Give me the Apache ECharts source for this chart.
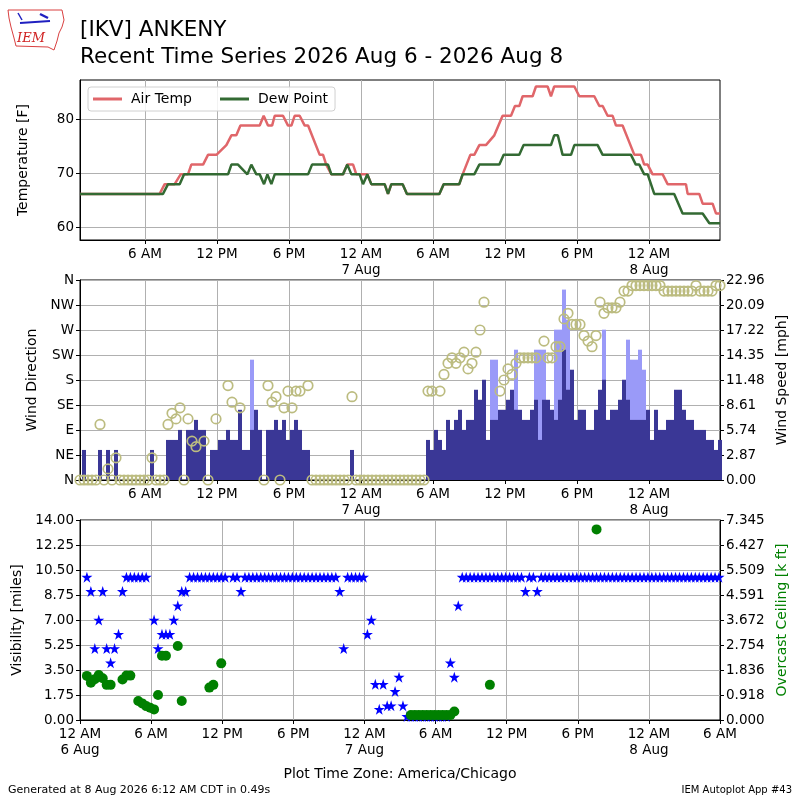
<!DOCTYPE html>
<html>
<head>
<meta charset="utf-8">
<title>[IKV] ANKENY Recent Time Series</title>
<script src="https://cdn.jsdelivr.net/npm/echarts@6/dist/echarts.min.js"></script>
<style>html,body{margin:0;background:#fff;}</style>
</head>
<body>
<div id="main" style="width:800px;height:800px;"></div>
<script type="text/javascript">
// x values are hours since 00:00 6 Aug (America/Chicago)
// AWOS obs every 20 minutes, first one 00:35 6 Aug, last 05:55 8 Aug
var obsStart = 35 / 60;
var obsStep = 20 / 60;

// temperature / dew point break points (F)
var tempHours = [0.58,7.22,7.64,8.47,8.97,9.58,9.86,10.84,11.25,11.95,12.78,13.2,13.61,13.95,15.56,15.89,16.25,16.59,16.81,17.5,17.92,18.2,18.47,18.89,19.31,19.59,20.56,20.84,21.1,21.53,22.5,22.86,23.34,23.61,24.53,24.86,25.97,26.25,26.53,27.47,27.83,30.53,30.89,32.19,32.47,33.11,33.44,33.86,34.41,35.11,35.8,36.5,36.83,37.19,37.47,38.3,38.58,39.55,39.83,40.1,41.78,42.19,43.44,43.86,44.14,44.55,44.97,45.25,45.8,46.78,47.33,47.6,47.89,48.3,49.14,49.55,51.08,51.22,52.19,52.47,53.3,53.58,53.92];
var tempVals = [66.2,66.2,68,68,69.8,69.8,71.6,71.6,73.4,73.4,75.2,77,77,78.8,78.8,80.6,78.8,78.8,80.6,80.6,78.8,78.8,80.6,80.6,78.8,78.8,73.4,73.4,71.6,69.8,69.8,71.6,71.6,69.8,69.8,68,68,66.2,68,68,66.2,66.2,68,68,69.8,73.4,73.4,75.2,75.2,77,80.6,80.6,82.4,82.4,84.2,84.2,86,86,84.2,86,86,84.2,84.2,82.4,82.4,80.6,80.6,78.8,78.8,73.4,73.4,71.6,71.6,69.8,69.8,68,68,66.2,66.2,64.4,64.4,62.6,62.6];
var dewHours = [0.58,7.5,7.92,8.89,9.25,12.92,13.2,13.75,14.53,14.86,15.28,15.56,15.92,16.2,16.53,16.81,19.59,19.92,21.25,21.53,22.5,22.86,23.2,23.89,24.17,24.53,24.86,25.97,26.25,26.53,27.47,27.83,30.53,30.89,32.19,32.47,33.44,33.86,35.53,35.89,37.19,37.55,39.83,40.1,40.4,40.8,41.5,41.78,43.72,44.14,46.5,46.9,47.19,47.6,47.89,48.44,50.1,50.8,52.47,53.03,53.92];
var dewVals = [66.2,66.2,68,68,69.8,69.8,71.6,71.6,69.8,71.6,69.8,69.8,68,69.8,68,69.8,69.8,71.6,71.6,69.8,69.8,71.6,69.8,69.8,68,69.8,68,68,66.2,68,68,66.2,66.2,68,68,69.8,69.8,71.6,71.6,73.4,73.4,75.2,75.2,77,77,73.4,73.4,75.2,75.2,73.4,73.4,71.6,71.6,69.8,69.8,66.2,66.2,62.6,62.6,60.8,60.8];

// wind direction (deg), one per obs, null = not reported
var windDir = [
  0,0,0,0,0,100,0,20,0,40,
  0,0,0,0,0,0,0,0,40,0,
  0,0,100,120,110,130,0,110,70,60,
  null,70,0,null,110,null,null,170,140,null,
  130,null,null,null,null,null,0,170,140,150,
  0,130,160,130,160,160,null,170,0,0,
  0,0,0,0,0,0,0,0,150,0,
  0,0,0,0,0,0,0,0,0,0,
  0,0,0,0,0,0,0,160,160,null,
  160,190,210,220,210,220,230,200,210,230,
  270,320,null,null,null,160,180,200,190,210,
  220,220,220,220,220,null,250,220,220,240,
  240,290,300,280,280,280,260,250,240,260,
  320,300,310,310,310,320,340,340,350,350,
  350,350,350,350,350,350,340,340,340,340,
  340,340,340,340,350,340,340,340,340,350,
  350
];
// wind speed (mph), one per obs
var windSpeed = [
  0,3.45,0,0,0,3.45,0,3.45,0,3.45,
  0,0,0,0,0,0,0,0,3.45,0,
  0,0,4.6,4.6,4.6,5.75,0,5.75,5.75,6.9,
  5.75,5.75,0,3.45,3.45,4.6,4.6,5.75,4.6,4.6,
  8.06,3.45,3.45,5.75,8.06,5.75,0,5.75,5.75,6.9,
  5.75,6.9,4.6,5.75,6.9,5.75,3.45,3.45,0,0,
  0,0,0,0,0,0,0,0,3.45,0,
  0,0,0,0,0,0,0,0,0,0,
  0,0,0,0,0,0,0,4.6,3.45,5.75,
  4.6,3.45,6.9,5.75,6.9,8.06,5.75,6.9,6.9,10.36,
  9.21,11.51,4.6,6.9,6.9,8.06,8.06,9.21,10.36,8.06,
  8.06,6.9,6.9,8.06,9.21,4.6,9.21,9.21,8.06,6.9,
  9.21,14.96,10.36,12.66,6.9,8.06,8.06,5.75,5.75,8.06,
  10.36,11.51,6.9,8.06,8.06,9.21,11.51,9.21,6.9,6.9,
  6.9,6.9,8.06,4.6,8.06,5.75,5.75,6.9,6.9,10.36,
  10.36,8.06,6.9,6.9,5.75,5.75,5.75,4.6,4.6,3.45,
  4.6
];
// gusts (mph) only at these obs
var gustSlots = [43,103,104,109,114,115,116,119,120,121,122,131,137,138,139,140,141];
var gustVals = [13.81,13.81,13.81,14.96,14.96,14.96,14.96,17.26,17.26,21.86,18.41,17.26,16.11,13.81,13.81,14.96,12.66];

// visibility (miles), one per obs
var visibility = [
  10,9,5,7,9,5,4,5,6,9,
  10,10,10,10,10,10,null,7,5,6,
  6,6,7,8,9,9,10,10,10,10,
  10,10,10,10,10,10,null,10,10,9,
  10,10,10,10,10,10,10,10,10,10,
  10,10,10,10,10,10,10,10,10,10,
  10,10,10,10,9,5,10,10,10,10,
  10,6,7,2.5,0.75,2.5,1,1,2,3,
  1,0.25,0.25,0.25,0.25,0.25,0.25,0.25,0.25,0.25,
  0.25,0.25,4,3,8,10,10,10,10,10,
  10,10,10,10,10,10,10,10,10,10,
  10,9,10,10,9,10,10,10,10,10,
  10,10,10,10,10,10,10,10,10,10,
  10,10,10,10,10,10,10,10,10,10,
  10,10,10,10,10,10,10,10,10,10,
  10,10,10,10,10,10,10,10,10,10,
  10
];
// overcast ceiling (k ft) only at these obs
var ceilSlots = [0,1,2,3,4,5,6,9,10,11,13,14,15,16,17,18,19,20,23,24,31,32,34,82,83,84,85,86,87,88,89,90,91,92,93,102,129];
var ceilVals = [1.62,1.37,1.5,1.65,1.53,1.29,1.29,1.49,1.63,1.63,0.70,0.61,0.51,0.45,0.39,0.92,2.36,2.36,2.72,0.70,1.19,1.29,2.08,0.18,0.18,0.18,0.18,0.18,0.18,0.18,0.18,0.18,0.18,0.18,0.31,1.29,7.0];

var dirLabels = ['N', 'NE', 'E', 'SE', 'S', 'SW', 'W', 'NW', 'N'];
var hourTicks = [6, 12, 18, 24, 30, 36, 42, 48];

function obsTime(i) { return obsStart + i * obsStep; }
function pairs(xs, ys) { return xs.map(function (x, i) { return [x, ys[i]]; }); }
function perObs(vals) { return vals.map(function (v, i) { return [obsTime(i), v]; }); }
function sparse(slots, vals) { return slots.map(function (s, i) { return [obsTime(s), vals[i]]; }); }

function timeLabel(v) {
  var h = Math.round(v);
  var hh = h % 24;
  var txt = hh === 0 ? '12 AM' : (hh < 12 ? hh + ' AM' : (hh === 12 ? '12 PM' : (hh - 12) + ' PM'));
  if (hh === 0) txt += '\n' + (6 + h / 24) + ' Aug';
  return txt;
}

var FONT = 'DejaVu Sans';
var gridLine = { show: true, lineStyle: { color: '#b0b0b0', width: 1 } };
var blackLine = { show: true, lineStyle: { color: '#000', width: 1 } };
var tick = { show: true, length: 4, lineStyle: { color: '#000' } };
var lbl = { color: '#000', fontSize: 13.5, fontFamily: FONT };

function xAx(grid, extra) {
  var a = {
    type: 'value', gridIndex: grid,
    axisLine: blackLine, splitLine: gridLine,
    axisTick: tick,
    axisLabel: Object.assign({ formatter: timeLabel, lineHeight: 16, margin: 6, showMinLabel: true, showMaxLabel: true }, lbl)
  };
  return Object.assign(a, extra);
}

var starPath = 'path://M50,0 L61.2,34.5 L97.6,34.5 L68.2,55.9 L79.4,90.5 L50,69.1 L20.6,90.5 L31.8,55.9 L2.4,34.5 L38.8,34.5 Z';

var myChart = echarts.init(document.getElementById('main'));

var option = {
  animation: false,
  backgroundColor: '#fff',
  textStyle: { fontFamily: FONT },
  grid: [
    { left: 80, top: 80, width: 640, height: 160, show: true, borderColor: '#000', borderWidth: 1 },
    { left: 80, top: 280, width: 640, height: 200, show: true, borderColor: '#000', borderWidth: 1 },
    { left: 80, top: 520, width: 640, height: 200, show: true, borderColor: '#000', borderWidth: 1 }
  ],
  legend: {
    left: 88, top: 87,
    data: [{ name: 'Air Temp', icon: 'rect' }, { name: 'Dew Point', icon: 'rect' }],
    itemWidth: 29, itemHeight: 3, itemGap: 28,
    padding: [5, 7, 5, 5],
    borderColor: '#d0d0d0', borderWidth: 1, borderRadius: 3,
    backgroundColor: 'rgba(255,255,255,0.85)',
    textStyle: { fontSize: 14, color: '#000', padding: [0, 0, 0, 4] }
  },
  xAxis: [
    xAx(0, { min: obsStart, max: obsTime(160), axisTick: Object.assign({ customValues: hourTicks }, tick),
      axisLabel: Object.assign({ customValues: hourTicks, formatter: timeLabel, lineHeight: 16, margin: 6 }, lbl) }),
    xAx(1, { min: obsStart, max: obsTime(160), axisTick: Object.assign({ customValues: hourTicks }, tick),
      axisLabel: Object.assign({ customValues: hourTicks, formatter: timeLabel, lineHeight: 16, margin: 6 }, lbl) }),
    xAx(2, { min: 0, max: 54, interval: 6 })
  ],
  yAxis: [
    {
      type: 'value', gridIndex: 0, min: 57.7, max: 87.2,
      name: 'Temperature [F]', nameLocation: 'middle', nameGap: 50, nameRotate: 90,
      nameTextStyle: { fontSize: 14, color: '#000' },
      axisLine: blackLine, splitLine: gridLine,
      axisTick: Object.assign({ customValues: [60, 70, 80] }, tick),
      axisLabel: Object.assign({ customValues: [60, 70, 80], margin: 6 }, lbl)
    },
    {
      type: 'value', gridIndex: 1, min: 0, max: 360, interval: 45,
      name: 'Wind Direction', nameLocation: 'middle', nameGap: 38, nameRotate: 90,
      nameTextStyle: { fontSize: 14, color: '#000' },
      axisLine: blackLine, splitLine: gridLine, axisTick: tick,
      axisLabel: Object.assign({ margin: 6, formatter: function (v) { return dirLabels[Math.round(v / 45)]; } }, lbl)
    },
    {
      type: 'value', gridIndex: 1, position: 'right', min: 0, max: 22.96, interval: 2.87,
      name: 'Wind Speed [mph]', nameLocation: 'middle', nameGap: 52, nameRotate: 90,
      nameTextStyle: { fontSize: 14, color: '#000' },
      axisLine: blackLine, splitLine: { show: false }, axisTick: tick,
      axisLabel: Object.assign({ margin: 6, formatter: function (v) { return v.toFixed(2); } }, lbl)
    },
    {
      type: 'value', gridIndex: 2, min: 0, max: 14, interval: 1.75,
      name: 'Visibility [miles]', nameLocation: 'middle', nameGap: 52, nameRotate: 90,
      nameTextStyle: { fontSize: 14, color: '#000' },
      axisLine: blackLine, splitLine: gridLine, axisTick: tick,
      axisLabel: Object.assign({ margin: 6, formatter: function (v) { return v.toFixed(2); } }, lbl)
    },
    {
      type: 'value', gridIndex: 2, position: 'right', min: 0, max: 7.345, interval: 0.918125,
      name: 'Overcast Ceiling [k ft]', nameLocation: 'middle', nameGap: 52, nameRotate: 90,
      nameTextStyle: { fontSize: 14, color: '#008000' },
      axisLine: blackLine, splitLine: { show: false }, axisTick: tick,
      axisLabel: Object.assign({ margin: 6, formatter: function (v) { return v.toFixed(3); } }, lbl)
    }
  ],
  series: [
    {
      name: 'Air Temp', type: 'line', xAxisIndex: 0, yAxisIndex: 0,
      data: pairs(tempHours, tempVals), showSymbol: false,
      lineStyle: { color: '#e0666a', width: 2.5 }, itemStyle: { color: '#e0666a' }
    },
    {
      name: 'Dew Point', type: 'line', xAxisIndex: 0, yAxisIndex: 0,
      data: pairs(dewHours, dewVals), showSymbol: false,
      lineStyle: { color: '#336a33', width: 2.5 }, itemStyle: { color: '#336a33' }
    },
    {
      name: 'Gust', type: 'bar', xAxisIndex: 1, yAxisIndex: 2,
      data: sparse(gustSlots, gustVals), barWidth: 4, barGap: '-100%',
      itemStyle: { color: '#9a9af8' }
    },
    {
      name: 'Speed', type: 'bar', xAxisIndex: 1, yAxisIndex: 2,
      data: perObs(windSpeed), barWidth: 4, barGap: '-100%',
      itemStyle: { color: '#3a3796' }
    },
    {
      name: 'Direction', type: 'scatter', xAxisIndex: 1, yAxisIndex: 1,
      data: perObs(windDir), symbol: 'circle', symbolSize: 9.5,
      itemStyle: { color: 'rgba(0,0,0,0)', borderColor: '#bcbc80', borderWidth: 1.7, opacity: 1 }
    },
    {
      name: 'Visibility', type: 'scatter', xAxisIndex: 2, yAxisIndex: 3,
      data: perObs(visibility), symbol: starPath, symbolSize: 11,
      itemStyle: { color: '#0000ff', opacity: 1 }
    },
    {
      name: 'Ceiling', type: 'scatter', xAxisIndex: 2, yAxisIndex: 4,
      data: sparse(ceilSlots, ceilVals), symbol: 'circle', symbolSize: 10,
      itemStyle: { color: '#008000', opacity: 1 }
    }
  ],
  graphic: [
    { type: 'polygon', shape: { points: [[8,10],[62,10],[64,20],[62,27],[59,33],[57,41],[54,50],[48,47],[16,46],[14,38],[11,27],[9,18]] },
      style: { fill: 'none', stroke: '#d94040', lineWidth: 1 } },
    { type: 'polyline', shape: { points: [[20,23],[50,21]] }, style: { stroke: '#2020c0', lineWidth: 2 } },
    { type: 'polyline', shape: { points: [[18,13],[22,20]] }, style: { stroke: '#2020c0', lineWidth: 1.5 } },
    { type: 'polyline', shape: { points: [[40,14],[48,18]] }, style: { stroke: '#2020c0', lineWidth: 2.5 } },
    { type: 'text', x: 31, y: 39, style: { text: 'IEM', fill: '#d02020', font: 'italic 13px "DejaVu Serif"', textAlign: 'center', textVerticalAlign: 'middle' } },
    { type: 'text', x: 80, y: 30, style: { text: '[IKV] ANKENY', fill: '#000', font: '21.5px "DejaVu Sans"', textAlign: 'left', textVerticalAlign: 'middle' } },
    { type: 'text', x: 80, y: 57, style: { text: 'Recent Time Series 2026 Aug 6 - 2026 Aug 8', fill: '#000', font: '21.5px "DejaVu Sans"', textAlign: 'left', textVerticalAlign: 'middle' } },
    { type: 'text', x: 400, y: 774, style: { text: 'Plot Time Zone: America/Chicago', fill: '#000', font: '14px "DejaVu Sans"', textAlign: 'center', textVerticalAlign: 'middle' } },
    { type: 'text', x: 8, y: 790, style: { text: 'Generated at 8 Aug 2026 6:12 AM CDT in 0.49s', fill: '#000', font: '11px "DejaVu Sans"', textAlign: 'left', textVerticalAlign: 'middle' } },
    { type: 'text', x: 792, y: 790, style: { text: 'IEM Autoplot App #43', fill: '#000', font: '10px "DejaVu Sans"', textAlign: 'right', textVerticalAlign: 'middle' } }
  ]
};

myChart.setOption(option);
</script>
</body>
</html>
